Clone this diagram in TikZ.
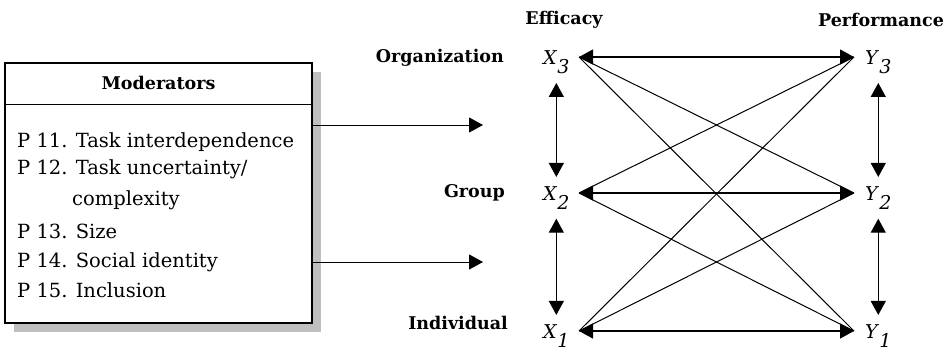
\documentclass[tikz,border=0pt]{standalone}
\usepackage{fontspec}
\setmainfont{DejaVu Serif}
\usetikzlibrary{arrows.meta,positioning,shadows,calc}
\newcommand{\lv}[2]{\textit{#1}\raisebox{-0.5em}{\textit{#2}}}
\tikzset{
  lbl/.style={font=\fontsize{17.5}{20}\selectfont\bfseries,inner sep=0pt},
  item/.style={font=\fontsize{19.5}{22}\selectfont,anchor=west,inner sep=0pt},
  lvar/.style={font=\fontsize{19}{21}\selectfont,anchor=base west,inner sep=0pt},
  link/.style={line width=1pt},
  tip/.style={line width=1pt,-{Triangle[length=14pt,width=15pt]}},
  both/.style={line width=1.2pt,{Triangle[length=14pt,width=15pt]}-{Triangle[length=14pt,width=15pt]}},
}
\begin{document}
\begin{tikzpicture}[x=1pt,y=-1pt]
  \useasboundingbox (0,0) rectangle (949,354);
  % moderators box
  \node[draw,line width=1.6pt,fill=white,minimum width=307pt,minimum height=260pt,inner sep=0pt,
    drop shadow={shadow xshift=9pt,shadow yshift=-9pt,fill=black!25,opacity=1}] (modbox) at (158.5,193) {};
  \node[minimum width=307pt,minimum height=42pt,inner sep=0pt,anchor=north,
    font=\fontsize{17.5}{20}\selectfont\bfseries] (hdr) at (modbox.north) {Moderators};
  \draw[line width=1.6pt] (hdr.south west) -- (hdr.south east);
  \foreach \n/\y/\t in {11/142/{P 11. Task interdependence},12/169/{P 12. Task uncertainty/},
      13/231/{P 13. Size},14/262/{P 14. Social identity},15/290/{P 15. Inclusion}}
    \node[item] (p\n) at (17,\y) {\t};
  \node[item] (p12b) at (72,200) {complexity};
  \coordinate (m1) at (483,125);
  \coordinate (m2) at (483,262);
  \draw[tip] (modbox.east|-m1) -- (m1);
  \draw[tip] (modbox.east|-m2) -- (m2);
  % levels
  \node[lbl] (eff) at (564,20) {Efficacy};
  \node[lbl] (perf) at (881,20) {Performance};
  \node[lbl,anchor=east] (org) at (504,58) {Organization};
  \node[lbl,anchor=east] (grp) at (505,193) {Group};
  \node[lbl,anchor=east] (ind) at (508,323) {Individual};
  \foreach \i/\r in {3/57,2/193,1/331}{
    \node[lvar] (x\i) at (543,\r+7) {\lv{X}{\i}};
    \node[lvar] (y\i) at (865,\r+7) {\lv{Y}{\i}};
    \coordinate (x\i p) at (579,\r);
    \coordinate (y\i p) at (854,\r);
  }
  % cross links
  \foreach \i in {1,2,3}
    \foreach \j in {1,2,3}{
      \ifnum\i=\j
        \draw[both] (x\i p) -- (y\j p);
      \else
        \draw[link] (x\i p) -- (y\j p);
      \fi
    }
  \draw[both,shorten <=9pt,shorten >=9pt] (x3) -- (x2);
  \draw[both,shorten <=9pt,shorten >=9pt] (x2) -- (x1);
  \draw[both,shorten <=9pt,shorten >=9pt] (y3) -- (y2);
  \draw[both,shorten <=9pt,shorten >=9pt] (y2) -- (y1);
\end{tikzpicture}
\end{document}
